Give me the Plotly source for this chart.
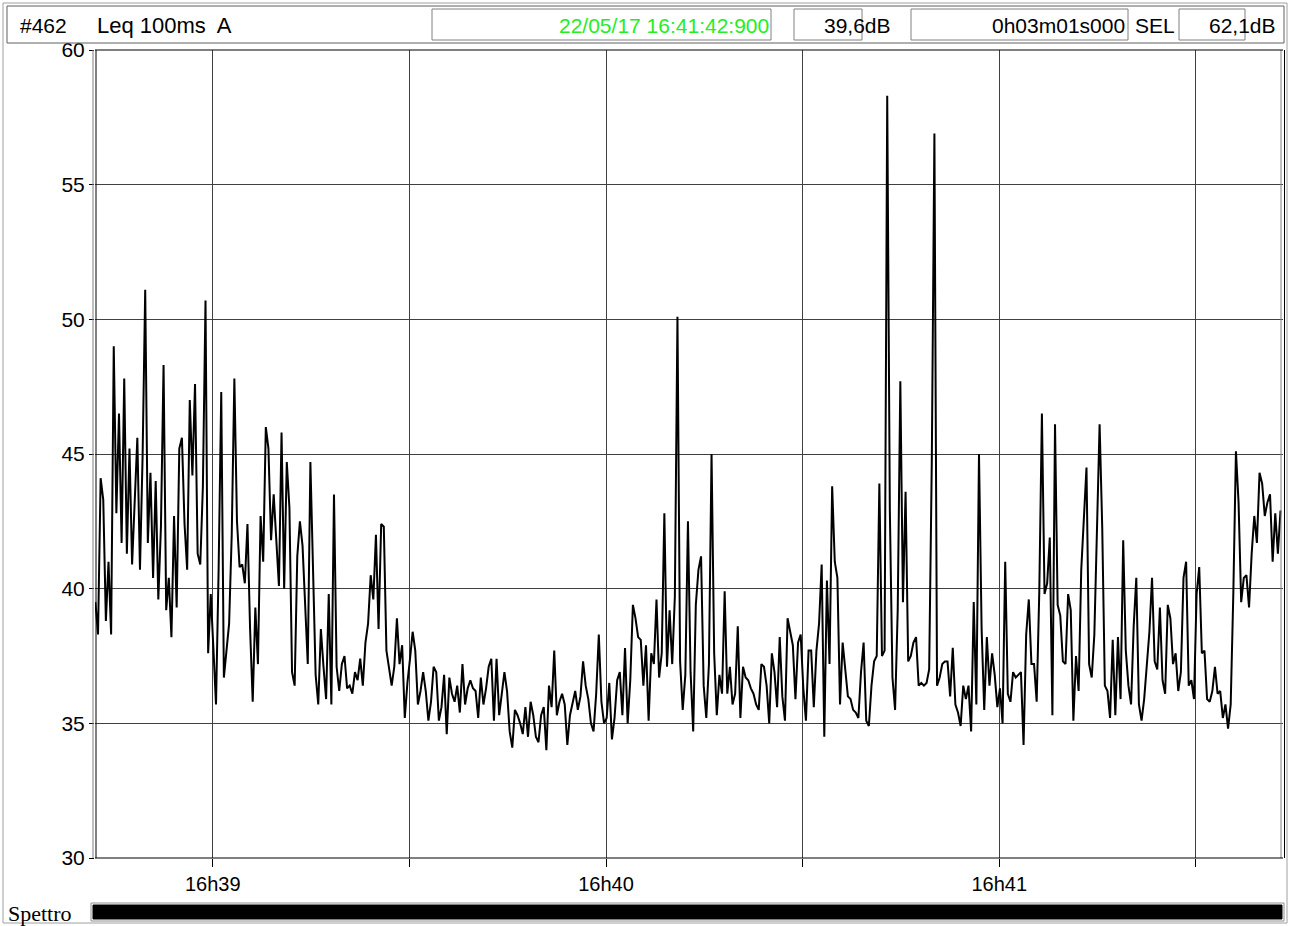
import pandas as pd
import plotly.graph_objects as go

# Leq 100ms A-weighted levels (dB), one reading every 0.4 s from 16:38:42.1
leq_db = [
    39.5, 38.3, 44.1, 43.3, 38.8, 41.0, 38.3, 49.0, 42.8, 46.5,
    41.7, 47.8, 41.3, 45.2, 40.9, 43.5, 45.6, 40.7, 44.9, 51.1,
    41.7, 44.3, 40.4, 44.0, 39.6, 42.3, 48.3, 39.2, 40.4, 38.2,
    42.7, 39.3, 45.2, 45.6, 42.4, 40.7, 47.0, 44.2, 47.6, 41.3,
    40.9, 43.8, 50.7, 37.6, 39.8, 37.8, 35.7, 40.7, 47.3, 36.7,
    37.6, 38.7, 42.0, 47.8, 42.5, 40.8,
    40.9, 40.2, 42.4, 38.5, 35.8, 39.3, 37.2, 42.7, 41.0, 46.0,
    45.2, 41.8, 43.5, 41.9, 40.1, 45.8, 40.0, 44.7, 43.0, 36.9,
    36.4, 41.2, 42.5, 41.6, 39.4, 37.2, 44.7, 40.2, 36.8, 35.7,
    38.5, 37.1, 35.9, 39.8, 35.7, 43.5, 37.1, 36.2, 37.2, 37.5,
    36.3, 36.4, 36.1, 36.9, 36.6, 37.4, 36.4, 38.0, 38.7, 40.5,
    39.6, 42.0, 38.5, 42.4, 42.3, 37.7, 37.1,
    36.4, 37.1, 38.9, 37.2, 37.9, 35.2, 36.5, 37.4, 38.4, 37.7,
    35.7, 36.2, 36.9, 36.2, 35.1, 35.8, 37.1, 36.9, 35.1, 35.6,
    36.8, 34.6, 36.7, 36.1, 35.8, 36.4, 35.4, 37.2, 35.7, 36.3,
    36.6, 36.3, 36.2, 35.2, 36.7, 35.7, 36.3, 37.1, 37.4, 35.1,
    37.4, 35.3, 36.2, 36.9, 36.2, 34.7, 34.1, 35.5, 35.3, 35.0,
    34.6, 35.6, 34.5, 35.8, 35.3, 34.5, 34.3,
    35.3, 35.6, 34.0, 36.4, 35.6, 37.7, 35.3, 35.8, 36.1, 35.7,
    34.2, 35.3, 35.7, 36.2, 35.5, 36.0, 37.3, 36.4, 35.9, 35.0,
    34.7, 36.1, 38.3, 35.8, 35.0, 35.2, 36.5, 34.4, 35.2, 36.6,
    36.9, 35.3, 37.8, 35.0, 36.6, 39.4, 38.9, 38.2, 38.1, 36.4,
    37.9, 35.1, 37.6, 37.2, 39.6, 36.7, 37.6, 42.8, 37.1, 39.2,
    37.2, 39.7, 50.1, 37.3, 35.5, 36.8, 42.5,
    36.9, 34.7, 39.4, 40.7, 41.2, 36.4, 35.2, 37.2, 45.0, 37.6,
    35.3, 36.8, 36.1, 39.9, 36.1, 37.1, 35.7, 36.1, 38.6, 35.2,
    37.1, 36.7, 36.6, 36.3, 36.1, 35.7, 35.5, 37.2, 37.1, 36.4,
    35.0, 37.6, 36.9, 35.6, 38.2, 36.0, 35.1, 38.9, 38.4, 37.9,
    35.9, 38.0, 38.3, 36.3, 35.1, 37.7, 37.7, 35.6, 37.7, 38.7,
    40.9, 34.5, 40.3, 37.2, 43.8, 41.0, 40.4,
    35.7, 38.0, 37.0, 36.0, 35.9, 35.5, 35.4, 35.2, 36.9, 38.0,
    35.1, 34.9, 36.4, 37.3, 37.5, 43.9, 37.5, 37.7, 58.3, 42.9,
    36.7, 35.5, 39.2, 47.7, 39.5, 43.6, 37.3, 37.5, 38.0, 38.2,
    36.4, 36.5, 36.4, 36.5, 37.0, 44.7, 56.9, 36.4, 36.7, 37.2,
    37.3, 37.3, 36.0, 37.8, 35.7, 35.4, 34.9, 36.4, 35.9, 36.4,
    34.7, 39.5, 35.7, 45.0, 38.5, 35.5, 38.2,
    36.4, 37.6, 36.8, 35.6, 36.3, 35.0, 41.0, 36.1, 35.8, 36.9,
    36.7, 36.8, 36.9, 34.2, 38.3, 39.6, 37.2, 37.2, 35.8, 39.9,
    46.5, 39.8, 40.2, 41.9, 35.3, 46.1, 39.4, 39.0, 37.3, 37.2,
    39.8, 39.2, 35.1, 37.5, 36.2, 40.7, 42.8, 44.5, 37.2, 36.7,
    38.3, 42.0, 46.1, 42.3, 36.4, 36.2, 35.2, 38.1, 35.3, 38.2,
    35.9, 41.8, 37.7, 36.4, 35.7, 38.6, 40.4,
    35.7, 35.1, 35.9, 37.3, 38.4, 40.4, 37.3, 37.0, 39.3, 36.6,
    36.1, 39.4, 38.9, 37.2, 37.6, 36.2, 36.9, 40.4, 41.0, 36.4,
    36.6, 35.9, 39.8, 40.8, 37.6, 37.7, 35.9, 35.8, 36.2, 37.1,
    36.1, 36.2, 35.2, 35.7, 34.8, 35.7, 39.8, 45.1, 43.2, 39.5,
    40.4, 40.5, 39.3, 41.3, 42.7, 41.7, 44.3, 43.9, 42.7, 43.2,
    43.5, 41.0, 42.8, 41.3, 42.9,
]

times = pd.date_range("2017-05-22 16:38:42.1", periods=len(leq_db), freq="400ms")

x_range = ["2017-05-22 16:38:42.04", "2017-05-22 16:41:43.28"]
tick_times = pd.to_datetime([
    "2017-05-22 16:39:00", "2017-05-22 16:39:30", "2017-05-22 16:40:00",
    "2017-05-22 16:40:30", "2017-05-22 16:41:00", "2017-05-22 16:41:30",
])
tick_labels = ["16h39", "", "16h40", "", "16h41", ""]
y_ticks = [30, 35, 40, 45, 50, 55, 60]

header_id = "#462"
header_mode = "Leq 100ms  A"
cursor_time = "22/05/17 16:41:42:900"
cursor_level = "39,6dB"
duration = "0h03m01s000"
sel_label = "SEL"
sel_level = "62,1dB"

W, H = 1290, 926
PL, PR, PT, PB = 95, 1283, 50, 858   # plot area in pixels


def fx(px):
    return (px - PL) / (PR - PL)


def fy(py):
    return (PB - py) / (PB - PT)


SANS = "Liberation Sans Narrow, Liberation Sans, Arial, sans-serif"
SERIF = "Liberation Serif, Times New Roman, serif"

fig = go.Figure()
fig.add_trace(go.Scatter(
    x=times, y=leq_db, mode="lines",
    line=dict(color="black", width=2),
    hoverinfo="skip", showlegend=False,
))

shapes = []


def rect(x0, y0, x1, y1, line_color="#808080", width=1, fill=None):
    shapes.append(dict(
        type="rect", xref="paper", yref="paper",
        x0=fx(x0), x1=fx(x1), y0=fy(y1), y1=fy(y0),
        line=dict(color=line_color, width=width),
        fillcolor=fill if fill else "rgba(0,0,0,0)",
        layer="above",
    ))


def vline(x, y0, y1, color="black", width=1):
    shapes.append(dict(
        type="line", xref="paper", yref="paper",
        x0=fx(x), x1=fx(x), y0=fy(y1), y1=fy(y0),
        line=dict(color=color, width=width), layer="above",
    ))


def hline(x0, x1, y, color="black", width=1):
    shapes.append(dict(
        type="line", xref="paper", yref="paper",
        x0=fx(x0), x1=fx(x1), y0=fy(y), y1=fy(y),
        line=dict(color=color, width=width), layer="above",
    ))


# page frame
rect(3, 3, 1287, 923, line_color="#a0a0a0")
# header bar and its value boxes
rect(7, 6, 1284, 43, line_color="#606060")
rect(432, 9, 771, 40)
rect(794, 9, 862, 40)
rect(911, 9, 1128, 40)
rect(1179, 9, 1245, 40)
# raised border of the plot area
vline(93, PT, PB, color="#808080", width=1)
vline(96, PT, PB, color="black", width=1)
vline(1281, PT, PB, color="#808080", width=1)
vline(1284.5, PT, PB, color="black", width=1)
hline(PL, PR, PT, color="black", width=1)
hline(PL, PR, PB, color="black", width=1)
# spectrum strip
rect(91, 903, 1284, 921, line_color="#909090", width=1)
rect(93, 905, 1282, 919, line_color="black", width=1, fill="black")

annotations = []


def label(text, x, y, anchor="left", color="black", size=21, family=SANS):
    annotations.append(dict(
        text=text, xref="paper", yref="paper",
        x=fx(x), y=fy(y), xanchor=anchor, yanchor="middle",
        showarrow=False, font=dict(family=family, size=size, color=color),
    ))


label(header_id, 18, 25)
label(header_mode, 95, 25, size=22)
label(cursor_time, 771, 25, anchor="right", color="#22ee22")
label(cursor_level, 893, 25, anchor="right")
label(duration, 1127, 25, anchor="right")
label(sel_label, 1133, 25)
label(sel_level, 1278, 25, anchor="right")
label("Spettro", 6, 913, family=SERIF, size=22)

fig.update_layout(
    width=W, height=H,
    margin=dict(l=PL, r=W - PR, t=PT, b=H - PB, pad=0),
    paper_bgcolor="white", plot_bgcolor="white",
    shapes=shapes, annotations=annotations,
    xaxis=dict(
        type="date", range=x_range,
        tickvals=tick_times, ticktext=tick_labels,
        showgrid=True, gridcolor="#404040", gridwidth=1,
        ticks="outside", ticklen=8, tickcolor="black",
        showline=False, zeroline=False,
        tickfont=dict(family=SANS, size=20, color="black"),
    ),
    yaxis=dict(
        range=[30, 60], tickvals=y_ticks,
        showgrid=True, gridcolor="#404040", gridwidth=1,
        ticks="outside", ticklen=5, tickcolor="black",
        showline=False, zeroline=False,
        tickfont=dict(family=SANS, size=21, color="black"),
    ),
)

fig.write_html("out.html")
